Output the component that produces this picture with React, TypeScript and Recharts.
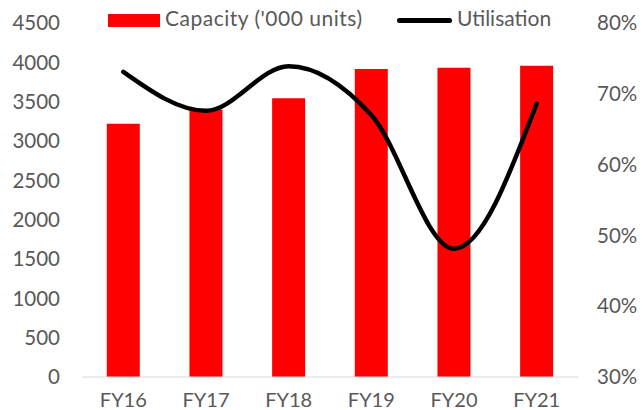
import { Bar, ComposedChart, Line, XAxis, YAxis } from 'recharts';

const years = ['FY16', 'FY17', 'FY18', 'FY19', 'FY20', 'FY21'];
const capacity = [3220, 3400, 3545, 3915, 3932, 3955];
const utilisation = [73.1, 67.6, 73.9, 67.0, 48.1, 68.6];
const capacityTicks = [0, 500, 1000, 1500, 2000, 2500, 3000, 3500, 4000, 4500];
const utilTicks = [30, 40, 50, 60, 70, 80];

const FONT = 'Lato, "Noto Sans", sans-serif';
const GREY = '#595959';
const TICK = { fontSize: 20.5, fill: GREY, fontFamily: FONT };

const rows = years.map((y, i) => ({ year: y, capacity: capacity[i], util: utilisation[i] }));

export default function App() {
  return (
    <div style={{ position: 'absolute', left: 0, top: 0, width: 643, height: 410, fontFamily: FONT }}>
      <ComposedChart
        width={643}
        height={410}
        data={rows}
        margin={{ top: 23, right: 0, bottom: 0, left: 0 }}
        barCategoryGap="30%"
      >
        <XAxis
          dataKey="year"
          height={33}
          tickLine={false}
          stroke="#d9d9d9"
          tickMargin={10}
          tick={{ ...TICK, fontSize: 20 }}
        />
        <YAxis
          yAxisId="left"
          width={82}
          domain={[0, 4500]}
          ticks={capacityTicks}
          axisLine={false}
          tickLine={false}
          tickSize={0}
          tickMargin={22}
          tick={TICK}
        />
        <YAxis
          yAxisId="right"
          orientation="right"
          width={65}
          domain={[30, 80]}
          ticks={utilTicks}
          tickFormatter={(v) => `${v}%`}
          axisLine={false}
          tickLine={false}
          tickSize={0}
          tickMargin={19}
          tick={{ ...TICK, textAnchor: 'start' }}
        />
        <Bar yAxisId="left" dataKey="capacity" fill="#ff0000" isAnimationActive={false} />
        <Line
          yAxisId="right"
          type="monotone"
          dataKey="util"
          stroke="#000000"
          strokeWidth={4.5}
          strokeLinecap="round"
          dot={false}
          activeDot={false}
          isAnimationActive={false}
        />
      </ComposedChart>

      {/* legend sits over the top of the plot, like the original */}
      <div style={{ position: 'absolute', left: 108, top: 14, width: 52, height: 13, background: '#ff0000' }} />
      <div
        style={{
          position: 'absolute',
          left: 165,
          top: 5,
          fontSize: 21,
          letterSpacing: 0.5,
          color: GREY,
          whiteSpace: 'nowrap',
        }}
      >
        Capacity ('000 units)
      </div>
      <div
        style={{ position: 'absolute', left: 397, top: 18, width: 55, height: 5, borderRadius: 3, background: '#000' }}
      />
      <div style={{ position: 'absolute', left: 457, top: 5, fontSize: 21, color: GREY, whiteSpace: 'nowrap' }}>
        Utilisation
      </div>
    </div>
  );
}
